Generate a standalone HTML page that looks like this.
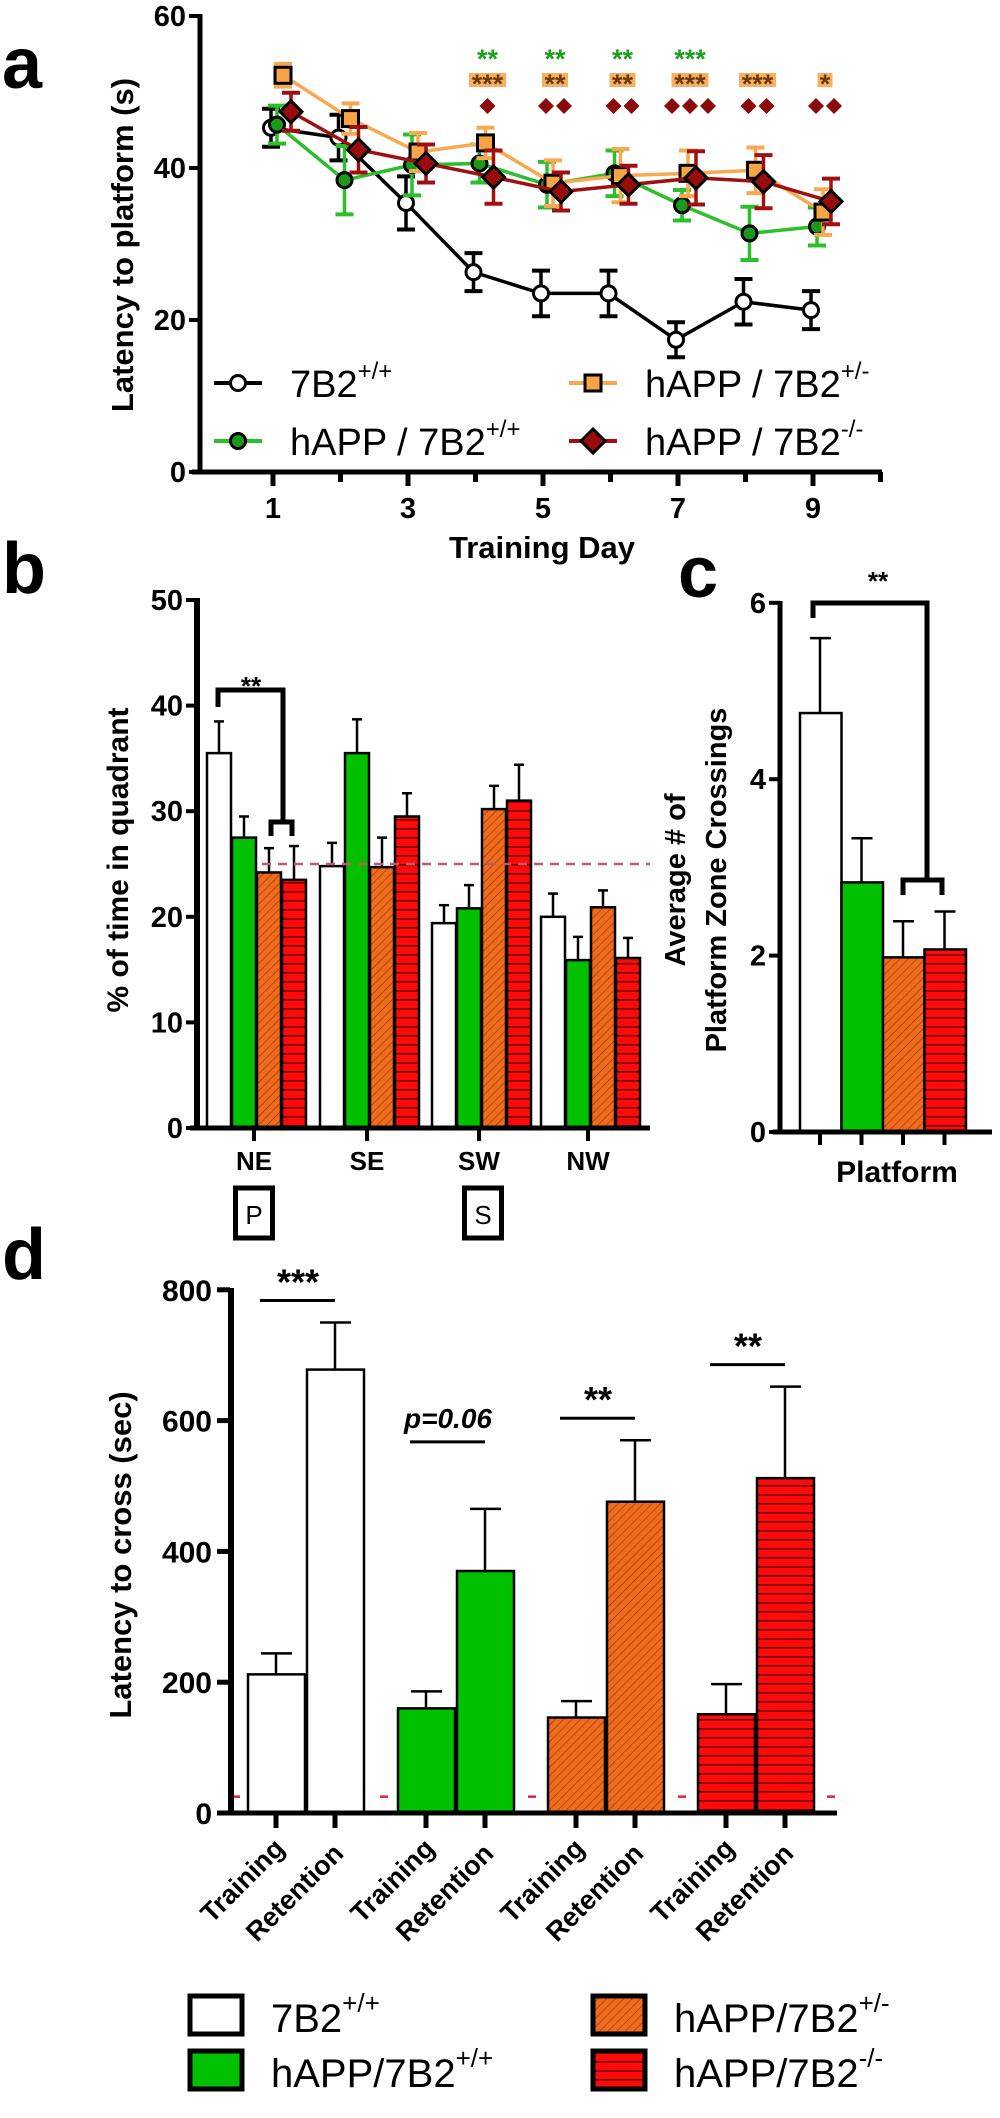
<!DOCTYPE html>
<html><head><meta charset="utf-8"><style>
html,body{margin:0;padding:0;background:#fff;}
svg{display:block;font-family:"Liberation Sans",Arial,sans-serif;}
.nar{font-family:"Liberation Sans Narrow","Liberation Sans",sans-serif;font-weight:bold;}
</style></head><body>
<svg id="fig" width="1000" height="2118" viewBox="0 0 1000 2118" xmlns="http://www.w3.org/2000/svg">
<defs>
<pattern id="hatch" width="6" height="6" patternUnits="userSpaceOnUse" patternTransform="rotate(45)">
<rect width="6" height="6" fill="#f26a1b"/><line x1="0" y1="0" x2="0" y2="6" stroke="#7a3a10" stroke-width="1.2"/></pattern>
<pattern id="stripe" width="9" height="9" patternUnits="userSpaceOnUse">
<rect width="9" height="9" fill="#ff0a0a"/><line x1="0" y1="0.8" x2="9" y2="0.8" stroke="#6a0000" stroke-width="1.6"/></pattern>
</defs>
<g id="gA"></g>
<g id="gB"></g>
<g id="gC"></g>
<g id="gD"></g>
<g id="gL"></g>
</svg>
<script>
// ---------- Panel a data ----------
const aDays = [1,2,3,4,5,6,7,8,9];
const aTicks = [0,20,40,60];
const aWT = [45.3,44.0,35.4,26.3,23.5,23.5,17.4,22.4,21.3];
const aWTerr = [2.5,3,3.5,2.5,3,3,2.3,3,2.5];
const aGreen = [45.7,38.4,40.4,40.6,37.8,39.3,35.1,31.4,32.3];
const aGreenErr = [2.5,4.5,4,2.5,3,3,2,3.5,2.5];
const aOrange = [52.2,46.5,42.1,43.3,38.0,39.0,39.3,39.7,34.2];
const aOrangeErr = [1.5,2,2.5,2,3,3.5,3,3,3];
const aRed = [47.4,42.4,40.6,38.8,36.9,37.8,38.7,38.2,35.6];
const aRedErr = [2.5,3,2.5,3.5,2.5,2.5,3.5,3.5,3];
const aStarDays = [4,5,6,7,8,9];
const aStarGreen = ["**","**","**","***","",""];
const aStarOrange = ["***","**","**","***","***","*"];
const aStarRed = [1,2,2,3,2,2];
// ---------- Panel b data ----------
const bCats = ["NE","SE","SW","NW"];
const bTicks = [0,10,20,30,40,50];
const bWT = [35.5,24.8,19.4,20.0];
const bWTerr = [3.0,2.2,1.7,2.2];
const bGreen = [27.5,35.5,20.8,15.9];
const bGreenErr = [2.0,3.2,2.2,2.2];
const bOrange = [24.2,24.7,30.2,20.9];
const bOrangeErr = [2.3,2.8,2.2,1.6];
const bRed = [23.5,29.5,31.0,16.1];
const bRedErr = [3.2,2.2,3.4,1.9];
const bChance = 25;
// ---------- Panel c data ----------
const cTicks = [0,2,4,6];
const cVals = [4.75,2.83,1.98,2.07];
const cErr = [0.85,0.5,0.41,0.43];
// ---------- Panel d data ----------
const dGroups = ["7B2+/+","hAPP/7B2+/+","hAPP/7B2+/-","hAPP/7B2-/-"];
const dTicks = [0,200,400,600,800];
const dTrain = [212,160,146,151];
const dTrainErr = [32,26,25,46];
const dRet = [678,370,476,512];
const dRetErr = [72,95,94,140];
const dSig = ["***","p=0.06","**","**"];
const dChance = 25;

const NS="http://www.w3.org/2000/svg";
function mk(parent,tag,attrs,text){const e=document.createElementNS(NS,tag);for(const k in attrs)e.setAttribute(k,attrs[k]);if(text!==undefined)e.textContent=text;parent.appendChild(e);return e;}
const gA=document.getElementById('gA'),gB=document.getElementById('gB'),gC=document.getElementById('gC'),gD=document.getElementById('gD'),gL=document.getElementById('gL');

// ================= Panel A =================
const ax=d=>273+(d-1)*67.5, ay=v=>472-v*7.6;
let t;
t=mk(gA,'text',{x:2,y:88,'font-size':72,'font-weight':'bold'},'a');

t=mk(gA,'line',{x1:200,y1:ay(60)-2,x2:200,y2:474,stroke:'#000','stroke-width':5});

t=mk(gA,'line',{x1:192,y1:472,x2:882,y2:472,stroke:'#000','stroke-width':5});

aTicks.forEach(v=>{
 mk(gA,'line',{x1:189,y1:ay(v),x2:200,y2:ay(v),stroke:'#000','stroke-width':4});
 t=mk(gA,'text',{x:186,y:ay(v)+10,'text-anchor':'end','font-size':29,class:'nar'},v);
 
});
for(let d=1;d<=10;d++){
 mk(gA,'line',{x1:ax(d),y1:472,x2:ax(d),y2:d%2?486:482,stroke:'#000','stroke-width':5});
 if(d%2){t=mk(gA,'text',{x:ax(d),y:518,'text-anchor':'middle','font-size':29,class:'nar'},d);
 }
}
t=mk(gA,'text',{x:542,y:558,'text-anchor':'middle','font-size':31,class:'nar'},'Training Day');

t=mk(gA,'text',{x:0,y:0,'text-anchor':'middle','font-size':31,'font-weight':'bold',transform:'translate(133,245) rotate(-90)'},'Latency to platform (s)');


function series(vals,errs,off,col,ecol,marker,fill,name){
 const g=mk(gA,'g',{});
 
 vals.forEach((v,i)=>{const x=ax(aDays[i])+off;
  mk(g,'line',{x1:x,y1:ay(v+errs[i]),x2:x,y2:ay(v-errs[i]),stroke:ecol,'stroke-width':3.5});
  mk(g,'line',{x1:x-9,y1:ay(v+errs[i]),x2:x+9,y2:ay(v+errs[i]),stroke:ecol,'stroke-width':4});
  mk(g,'line',{x1:x-9,y1:ay(v-errs[i]),x2:x+9,y2:ay(v-errs[i]),stroke:ecol,'stroke-width':4});
 });
 mk(g,'polyline',{points:vals.map((v,i)=>(ax(aDays[i])+off)+','+ay(v)).join(' '),fill:'none',stroke:col,'stroke-width':3.5});
 vals.forEach((v,i)=>{const x=ax(aDays[i])+off,y=ay(v);let m;
  if(marker==='c')m=mk(g,'circle',{cx:x,cy:y,r:7.5,fill:fill,stroke:'#000','stroke-width':3});
  else if(marker==='s')m=mk(g,'rect',{x:x-8,y:y-8,width:16,height:16,fill:fill,stroke:'#000','stroke-width':3});
  else m=mk(g,'polygon',{points:`${x},${y-11} ${x+11},${y} ${x},${y+11} ${x-11},${y}`,fill:fill,stroke:'#000','stroke-width':3});
  
 });
}
series(aWT,aWTerr,-2,'#000','#000','c','#fff','series-7b2-wt');
series(aGreen,aGreenErr,4,'#2cbf2c','#2cbf2c','c','#1a9a1a','series-happ-wt');
series(aOrange,aOrangeErr,10,'#f8a850','#f8a850','s','#f5a545','series-happ-het');
series(aRed,aRedErr,18,'#a01010','#a01010','d','#9a0c0c','series-happ-ko');

aStarDays.forEach((d,i)=>{const x=ax(d)+12;
 if(aStarGreen[i]){t=mk(gA,'text',{x:x,y:68,'text-anchor':'middle','font-size':27,'font-weight':'bold',fill:'#1aa01a'},aStarGreen[i]);
  }
 const w=aStarOrange[i].length*11+4;
 mk(gA,'rect',{x:x-w/2,y:73,width:w,height:14,fill:'#f8b060'});
 t=mk(gA,'text',{x:x,y:93,'text-anchor':'middle','font-size':27,'font-weight':'bold',fill:'#6a3a10'},aStarOrange[i]);
 
 for(let k=0;k<aStarRed[i];k++){const cx=x+(k-(aStarRed[i]-1)/2)*18,cy=106;
  t=mk(gA,'polygon',{points:`${cx},${cy-8} ${cx+8},${cy} ${cx},${cy+8} ${cx-8},${cy}`,fill:'#8b0a0a'});
  }
});
// legend a
const legA=[[238,383,'c','#000','#fff','7B2','+/+'],[238,441,'c','#2cbf2c','#1a9a1a','hAPP / 7B2','+/+'],[593,383,'s','#f8a850','#f5a545','hAPP / 7B2','+/-'],[593,441,'d','#a01010','#9a0c0c','hAPP / 7B2','-/-']];
legA.forEach(L=>{const g=mk(gA,'g',{});
 
 mk(g,'line',{x1:L[0]-24,y1:L[1],x2:L[0]+24,y2:L[1],stroke:L[3],'stroke-width':4});
 if(L[2]==='c')mk(g,'circle',{cx:L[0],cy:L[1],r:7.5,fill:L[4],stroke:'#000','stroke-width':3});
 else if(L[2]==='s')mk(g,'rect',{x:L[0]-8,y:L[1]-8,width:16,height:16,fill:L[4],stroke:'#000','stroke-width':3});
 else mk(g,'polygon',{points:`${L[0]},${L[1]-12} ${L[0]+12},${L[1]} ${L[0]},${L[1]+12} ${L[0]-12},${L[1]}`,fill:L[4],stroke:'#000','stroke-width':3});
 const tx=mk(g,'text',{x:L[0]+52,y:L[1]+14,'font-size':38},L[5]);
 mk(tx,'tspan',{'font-size':24,dy:-18},L[6]);
});

// ================= Panel B =================
const by=v=>1128-v*10.56, bCenters=[257,370,482,591];
t=mk(gB,'text',{x:2,y:593,'font-size':72,'font-weight':'bold'},'b');

t=mk(gB,'text',{x:0,y:0,'text-anchor':'middle','font-size':30,'font-weight':'bold',transform:'translate(128,860) rotate(-90)'},'% of time in quadrant');

bTicks.forEach(v=>{mk(gB,'line',{x1:186,y1:by(v),x2:197,y2:by(v),stroke:'#000','stroke-width':4});
 t=mk(gB,'text',{x:183,y:by(v)+10,'text-anchor':'end','font-size':29,class:'nar'},v);
 });
const bSeries=[[bWT,bWTerr,'#fff'],[bGreen,bGreenErr,'#00c000'],[bOrange,bOrangeErr,'url(#hatch)'],[bRed,bRedErr,'url(#stripe)']];
bSeries.forEach((s,si)=>{s[0].forEach((v,ci)=>{const x=bCenters[ci]-50+si*25;
 mk(gB,'line',{x1:x+12,y1:by(v),x2:x+12,y2:by(v+s[1][ci]),stroke:'#000','stroke-width':2.5});
 mk(gB,'line',{x1:x+7,y1:by(v+s[1][ci]),x2:x+17,y2:by(v+s[1][ci]),stroke:'#000','stroke-width':2.5});
 t=mk(gB,'rect',{x:x,y:by(v),width:24,height:by(0)-by(v),fill:s[2],stroke:'#000','stroke-width':2.5});
 });});
t=mk(gB,'line',{x1:262,y1:by(bChance),x2:650,y2:by(bChance),stroke:'#c05a6a','stroke-width':2.5,'stroke-dasharray':'9 7'});

mk(gB,'line',{x1:197,y1:598,x2:197,y2:1130,stroke:'#000','stroke-width':6});
t=mk(gB,'line',{x1:190,y1:1128,x2:650,y2:1128,stroke:'#000','stroke-width':5});

bCats.forEach((c,i)=>{mk(gB,'line',{x1:bCenters[i]-3,y1:1128,x2:bCenters[i]-3,y2:1141,stroke:'#000','stroke-width':4});
 t=mk(gB,'text',{x:bCenters[i]-3,y:1170,'text-anchor':'middle','font-size':26,'font-weight':'bold'},c);
 });
[[233,'P'],[462,'S']].forEach(b=>{const g=mk(gB,'g',{});
 
 mk(g,'rect',{x:b[0]+2.5,y:1188,width:37,height:50,fill:'#fff',stroke:'#000','stroke-width':5});
 mk(g,'text',{x:b[0]+21,y:1224,'text-anchor':'middle','font-size':26},b[1]);});
t=mk(gB,'path',{d:'M218,707 V690 H283 V822 M271,836 V822 H292 V836',fill:'none',stroke:'#000','stroke-width':5});

t=mk(gB,'text',{x:251,y:695,'text-anchor':'middle','font-size':26,'font-weight':'bold'},'**');


// ================= Panel C =================
const cy=v=>1132-v*88.2, cX=[800,841.5,883,924.5], cFill=['#fff','#00c000','url(#hatch)','url(#stripe)'];
t=mk(gC,'text',{x:678,y:597,'font-size':72,'font-weight':'bold'},'c');

t=mk(gC,'text',{x:0,y:0,'text-anchor':'middle','font-size':29,'font-weight':'bold',transform:'translate(685,880) rotate(-90)'},'Average # of');

t=mk(gC,'text',{x:0,y:0,'text-anchor':'middle','font-size':29,'font-weight':'bold',transform:'translate(726,880) rotate(-90)'},'Platform Zone Crossings');

cTicks.forEach(v=>{mk(gC,'line',{x1:769,y1:cy(v),x2:780,y2:cy(v),stroke:'#000','stroke-width':4});
 t=mk(gC,'text',{x:766,y:cy(v)+10,'text-anchor':'end','font-size':29,class:'nar'},v);
 });
cVals.forEach((v,i)=>{const x=cX[i];
 mk(gC,'line',{x1:x+20,y1:cy(v),x2:x+20,y2:cy(v+cErr[i]),stroke:'#000','stroke-width':2.5});
 mk(gC,'line',{x1:x+10,y1:cy(v+cErr[i]),x2:x+31,y2:cy(v+cErr[i]),stroke:'#000','stroke-width':2.5});
 t=mk(gC,'rect',{x:x,y:cy(v),width:41.5,height:cy(0)-cy(v),fill:cFill[i],stroke:'#000','stroke-width':2.5});
 
 mk(gC,'line',{x1:x+20,y1:1132,x2:x+20,y2:1145,stroke:'#000','stroke-width':4});});
mk(gC,'line',{x1:780,y1:601,x2:780,y2:1134,stroke:'#000','stroke-width':5});
t=mk(gC,'line',{x1:773,y1:1132,x2:992,y2:1132,stroke:'#000','stroke-width':5});

t=mk(gC,'text',{x:897,y:1182,'text-anchor':'middle','font-size':30,'font-weight':'bold'},'Platform');

t=mk(gC,'path',{d:'M813,618 V603 H927 V880 M903,895 V880 H942 V895',fill:'none',stroke:'#000','stroke-width':5});

t=mk(gC,'text',{x:878,y:590,'text-anchor':'middle','font-size':26,'font-weight':'bold'},'**');


// ================= Panel D =================
const dy=v=>1813-v*0.654, dX=[248,398,548,698], dFill=['#fff','#00c000','url(#hatch)','url(#stripe)'];
t=mk(gD,'text',{x:2,y:1279,'font-size':72,'font-weight':'bold'},'d');

t=mk(gD,'text',{x:0,y:0,'text-anchor':'middle','font-size':31,'font-weight':'bold',transform:'translate(131,1555) rotate(-90)'},'Latency to cross  (sec)');

dTicks.forEach(v=>{mk(gD,'line',{x1:217,y1:dy(v),x2:230,y2:dy(v),stroke:'#000','stroke-width':5});
 t=mk(gD,'text',{x:212,y:dy(v)+11,'text-anchor':'end','font-size':30,class:'nar'},v);
 });
function dBar(x,v,e,fill,lab){
 mk(gD,'line',{x1:x+28,y1:dy(v),x2:x+28,y2:dy(v+e),stroke:'#000','stroke-width':2.5});
 mk(gD,'line',{x1:x+13,y1:dy(v+e),x2:x+44,y2:dy(v+e),stroke:'#000','stroke-width':2.5});
 const r=mk(gD,'rect',{x:x,y:dy(v),width:57,height:dy(0)-dy(v),fill:fill,stroke:'#000','stroke-width':2.5});
 
 mk(gD,'line',{x1:x+28,y1:1813,x2:x+28,y2:1828,stroke:'#000','stroke-width':5});
 const tl=mk(gD,'text',{x:0,y:0,'text-anchor':'end','font-size':27,'font-weight':'bold',transform:`translate(${x+38},${lab==='training'?1850:1855}) rotate(-45)`},lab==='training'?'Training':'Retention');
 
}
dGroups.forEach((g,i)=>{
 dBar(dX[i],dTrain[i],dTrainErr[i],dFill[i],'training');
 dBar(dX[i]+59,dRet[i],dRetErr[i],dFill[i],'retention');
 const top=dy(dRet[i]+dRetErr[i])-22-(i===1?45:0);
 mk(gD,'line',{x1:dX[i]+12,y1:top,x2:dX[i]+87,y2:top,stroke:'#000','stroke-width':3});
 const isP=dSig[i].startsWith('p');
 const s=mk(gD,'text',{x:dX[i]+50,y:top-(isP?14:6),'text-anchor':'middle','font-size':isP?28:36,'font-weight':'bold','font-style':isP?'italic':'normal',class:isP?'nar':''},dSig[i]);
 
});
[232,380,528,678,827].forEach(x=>{t=mk(gD,'line',{x1:x,y1:dy(dChance),x2:x+8,y2:dy(dChance),stroke:'#e0203a','stroke-width':2.5});
 });
mk(gD,'line',{x1:231,y1:1288,x2:231,y2:1815,stroke:'#000','stroke-width':6});
t=mk(gD,'line',{x1:224,y1:1813,x2:837,y2:1813,stroke:'#000','stroke-width':5});


// ================= Bottom legend =================
const legB=[[188,1994,'#fff','7B2','+/+'],[188,2049,'#00c000','hAPP/7B2','+/+'],[591,1994,'url(#hatch)','hAPP/7B2','+/-'],[591,2049,'url(#stripe)','hAPP/7B2','-/-']];
legB.forEach(L=>{const g=mk(gL,'g',{});
 
 mk(g,'rect',{x:L[0]+2,y:L[1]+2,width:52,height:38,fill:L[2],stroke:'#000','stroke-width':5});
 const tx=mk(g,'text',{x:L[0]+83,y:L[1]+38,'font-size':40},L[3]);
 mk(tx,'tspan',{'font-size':26,dy:-20},L[4]);});
</script>
</body></html>
